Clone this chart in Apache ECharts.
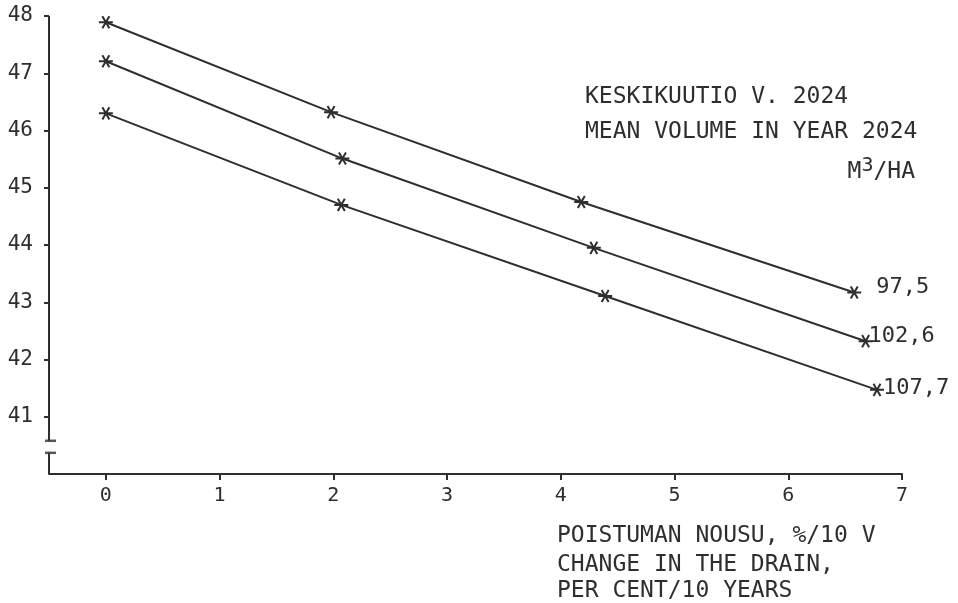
<!DOCTYPE html>
<html>
<head>
<meta charset="utf-8">
<script src="https://cdn.jsdelivr.net/npm/echarts@6/dist/echarts.min.js"></script>
<style>
  html, body { margin: 0; padding: 0; background: #fff; }
  #chart { width: 958px; height: 603px; }
</style>
</head>
<body>
<div id="chart"></div>
<script>
	// x = poistuman nousu %/10 v, y = keskikuutio v. 2024
	var seriesNames = ['97,5', '102,6', '107,7'];
	var xValues = [
		[0, 1.98, 4.18, 6.58],
		[0, 2.08, 4.29, 6.68],
		[0, 2.07, 4.39, 6.78]
	];
	var yValues = [
		[47.89, 46.32, 44.75, 43.17],
		[47.21, 45.51, 43.95, 42.32],
		[46.30, 44.70, 43.11, 41.47]
	];
	var xTicks = [0, 1, 2, 3, 4, 5, 6, 7];
	var yTicks = [41, 42, 43, 44, 45, 46, 47, 48];
	var yBreak = [40.37, 40.58]; // katkos y-akselissa

	var ink = '#2e2e2e';
	var font = 'DejaVu Sans Mono';
	var star = 'path://M0,-10L0,10M-8.66,-5L8.66,5M-8.66,5L8.66,-5';
	var labelOffsets = [[14, -5], [-5, -5], [-2, -2]];

	var series = [];
	for (var i = 0; i < seriesNames.length; i++) {
		var pts = [];
		for (var j = 0; j < xValues[i].length; j++) {
			pts.push([xValues[i][j], yValues[i][j]]);
		}
		series.push({
			name: seriesNames[i],
			type: 'line',
			data: pts,
			clip: false,
			symbol: star,
			symbolSize: 14,
			symbolKeepAspect: true,
			symbolRotate: 90,
			itemStyle: { color: ink, borderColor: ink, borderWidth: 2 },
			lineStyle: { color: ink, width: 2 },
			endLabel: {
				show: true,
				formatter: '{a}',
				fontFamily: font,
				fontSize: 22,
				color: ink,
				offset: labelOffsets[i]
			},
			animation: false
		});
	}

	// y-akselin viiva katkoksineen
	series[0].markLine = {
		silent: true,
		symbol: 'none',
		animation: false,
		label: { show: false },
		lineStyle: { color: ink, width: 2, type: 'solid' },
		data: [
			[{ coord: [-0.5, 48] }, { coord: [-0.5, yBreak[1]] }],
			[{ coord: [-0.5, yBreak[0]] }, { coord: [-0.5, 40] }]
		]
	};
	// katkoksen poikkiviivat
	series.push({
		name: 'break',
		type: 'scatter',
		data: [[-0.5, yBreak[0]], [-0.5, yBreak[1]]],
		clip: false,
		silent: true,
		symbol: 'rect',
		symbolSize: [11, 2.5],
		symbolOffset: [1.5, 0],
		itemStyle: { color: ink },
		animation: false
	});

	var titleStyle = { fontFamily: font, fontSize: 23, fontWeight: 'normal', color: ink };
	var chart = echarts.init(document.getElementById('chart'));
	chart.setOption({
		backgroundColor: '#fff',
		animation: false,
		title: [
			{ text: 'KESKIKUUTIO V. 2024', left: 585, top: 86, padding: 0, textStyle: titleStyle },
			{ text: 'MEAN VOLUME IN YEAR 2024', left: 585, top: 121, padding: 0, textStyle: titleStyle },
			{
				text: '{m|M}{s|3}{m|/HA}', right: 43, top: 156, padding: 0,
				textStyle: {
					fontWeight: 'normal',
					rich: {
						m: { fontFamily: font, fontSize: 23, fontWeight: 'normal', color: ink, verticalAlign: 'bottom', lineHeight: 28 },
						s: { fontFamily: font, fontSize: 20, fontWeight: 'normal', color: ink, verticalAlign: 'top', lineHeight: 28 }
					}
				}
			},
			{ text: 'POISTUMAN NOUSU, %/10 V', left: 557, top: 525, padding: 0, textStyle: titleStyle },
			{ text: 'CHANGE IN THE DRAIN,', left: 557, top: 554, padding: 0, textStyle: titleStyle },
			{ text: 'PER CENT/10 YEARS', left: 557, top: 580, padding: 0, textStyle: titleStyle }
		],
		grid: { left: 49, right: 56, top: 16, bottom: 129 },
		xAxis: {
			type: 'value',
			min: -0.5,
			max: 7,
			splitLine: { show: false },
			axisLine: { show: true, onZero: false, lineStyle: { color: ink, width: 2 } },
			axisTick: { show: true, customValues: xTicks, length: 6, lineStyle: { color: ink, width: 2 } },
			axisLabel: { customValues: xTicks, margin: 12, fontFamily: font, fontSize: 20, color: ink }
		},
		yAxis: {
			type: 'value',
			min: 40,
			max: 48,
			splitLine: { show: false },
			axisLine: { show: false, onZero: false },
			axisTick: { show: true, customValues: yTicks, length: 5, lineStyle: { color: ink, width: 2 } },
			axisLabel: { customValues: yTicks, margin: 16, fontFamily: font, fontSize: 21, color: ink }
		},
		series: series
	});
</script>
</body>
</html>
